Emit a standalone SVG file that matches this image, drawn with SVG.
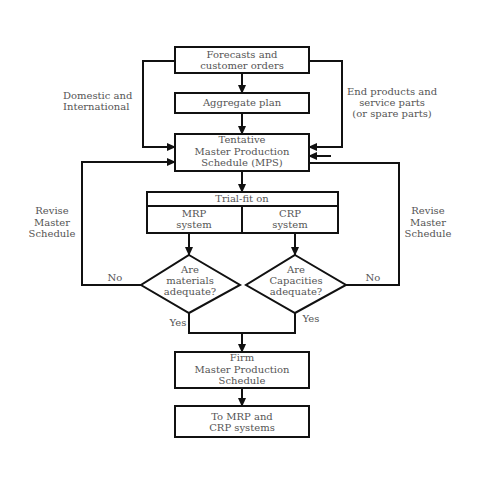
<svg xmlns="http://www.w3.org/2000/svg" width="480" height="480" viewBox="0 0 480 480">
<style>
.box{fill:#fff;stroke:#111;stroke-width:2}
.ln{fill:none;stroke:#111;stroke-width:2}
.ar{fill:none;stroke:#111;stroke-width:2;marker-end:url(#ah)}
text{font-family:"DejaVu Serif","Liberation Serif",serif;font-size:10px;fill:#555;text-anchor:middle}
.l{text-anchor:start}
</style>
<defs>
<marker id="ah" markerWidth="9" markerHeight="8" refX="8" refY="4" orient="auto" markerUnits="userSpaceOnUse">
<path d="M0,0 L9,4 L0,8 Z" fill="#111"/>
</marker>
</defs>
<rect width="480" height="480" fill="#fff"/>
<g id="connectors">
<path class="ar" d="M242,73 V93"/>
<path class="ar" d="M242,113 V134"/>
<path class="ar" d="M175,61 H143 V147 H175"/>
<path class="ar" d="M309,61 H342 V147 H309"/>
<path class="ar" d="M331,156 H309"/>
<path class="ar" d="M242,171 V192"/>
<path class="ar" d="M189,233 V255"/>
<path class="ar" d="M295,233 V255"/>
<path class="ar" d="M141,285 H82 V162 H175"/>
<path class="ln" d="M346,285 H399 V163 H309"/>
<path class="ln" d="M189,313 V333 H295 V313"/>
<path class="ar" d="M242,333 V352"/>
<path class="ar" d="M242,388 V406"/>
</g>
<g id="labels">
<text class="l" x="63" y="99">Domestic and</text>
<text class="l" x="63" y="110">International</text>
<text x="392" y="95">End products and</text>
<text x="392" y="106">service parts</text>
<text x="392" y="117">(or spare parts)</text>
<text x="52" y="214">Revise</text>
<text x="52" y="226">Master</text>
<text x="52" y="237">Schedule</text>
<text x="428" y="214">Revise</text>
<text x="428" y="226">Master</text>
<text x="428" y="237">Schedule</text>
<text x="115" y="281">No</text>
<text x="373" y="281">No</text>
<text x="178" y="326">Yes</text>
<text x="311" y="322">Yes</text>
</g>
<g id="forecasts">
<rect class="box" x="175" y="47" width="134" height="26"/>
<text x="242" y="58">Forecasts and</text>
<text x="242" y="69">customer orders</text>
</g>
<g id="aggregate">
<rect class="box" x="175" y="93" width="134" height="20"/>
<text x="242" y="106">Aggregate plan</text>
</g>
<g id="tentative">
<rect class="box" x="175" y="134" width="134" height="37"/>
<text x="242" y="143">Tentative</text>
<text x="242" y="155">Master Production</text>
<text x="242" y="166">Schedule (MPS)</text>
</g>
<g id="trialfit">
<rect class="box" x="147" y="192" width="191" height="41"/>
<path class="ln" d="M147,206 H338 M242,206 V233"/>
<text x="242" y="202">Trial-fit on</text>
<text x="194" y="217">MRP</text>
<text x="194" y="228">system</text>
<text x="290" y="217">CRP</text>
<text x="290" y="228">system</text>
</g>
<g id="materials">
<path class="box" d="M189,255 L240,285 L189,313 L141,285 Z"/>
<text x="190" y="273">Are</text>
<text x="190" y="284">materials</text>
<text x="190" y="295">adequate?</text>
</g>
<g id="capacities">
<path class="box" d="M295,255 L346,285 L295,313 L246,285 Z"/>
<text x="296" y="273">Are</text>
<text x="296" y="284">Capacities</text>
<text x="296" y="295">adequate?</text>
</g>
<g id="firm">
<rect class="box" x="175" y="352" width="134" height="36"/>
<text x="242" y="361">Firm</text>
<text x="242" y="373">Master Production</text>
<text x="242" y="384">Schedule</text>
</g>
<g id="tomrp">
<rect class="box" x="175" y="406" width="134" height="31"/>
<text x="242" y="420">To MRP and</text>
<text x="242" y="431">CRP systems</text>
</g>
</svg>
